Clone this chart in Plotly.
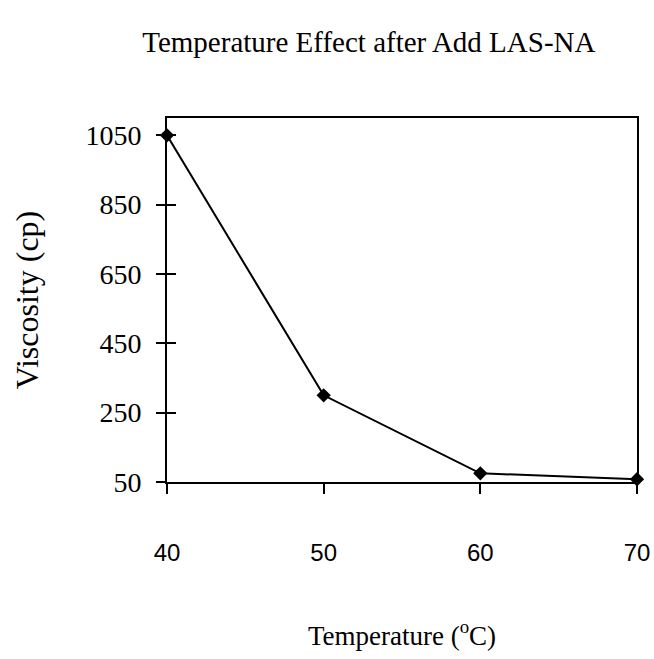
import plotly.graph_objects as go

# Data
temperature = [40, 50, 60, 70]
viscosity = [1050, 300, 75, 58]

x_ticks = [40, 50, 60, 70]
y_ticks = [50, 250, 450, 650, 850, 1050]

SERIF = "Liberation Serif, Times New Roman, serif"
SANS = "Liberation Sans, Arial, sans-serif"

fig = go.Figure()
fig.add_trace(go.Scatter(
    x=temperature,
    y=viscosity,
    mode="lines+markers",
    line=dict(color="black", width=2),
    marker=dict(symbol="diamond", size=11, color="black"),
    showlegend=False,
    cliponaxis=False,
))

# invisible trace on overlay axes so the inside half of the crossing ticks is drawn
fig.add_trace(go.Scatter(
    x=temperature, y=viscosity, xaxis="x2", yaxis="y2",
    mode="markers", marker=dict(opacity=0), showlegend=False, hoverinfo="skip",
))

fig.update_layout(
    width=654,
    height=659,
    paper_bgcolor="white",
    plot_bgcolor="white",
    font=dict(family=SERIF, color="black", size=20),
    margin=dict(l=167, r=17, t=118, b=177),
    title=dict(
        text="Temperature Effect after Add LAS-NA",
        x=0.564, xanchor="center",
        y=0.936, yanchor="middle",
        font=dict(size=29),
    ),
    xaxis=dict(
        range=[40, 70],
        tickvals=x_ticks,
        tickfont=dict(family=SANS, size=24),
        ticks="outside", ticklen=10, tickwidth=2, tickcolor="black",
        ticklabelstandoff=38,
        ticklabeloverflow="allow",
        automargin=False,
        showline=True, linecolor="black", linewidth=2, mirror=True,
        showgrid=False, zeroline=False,
        title=dict(text="Temperature (<sup>o</sup>C)", standoff=61, font=dict(size=27)),
    ),
    yaxis=dict(
        range=[50, 1100],
        tickvals=y_ticks,
        tickfont=dict(size=28),
        ticks="outside", ticklen=9, tickwidth=2, tickcolor="black",
        ticklabelstandoff=9,
        automargin=False,
        showline=True, linecolor="black", linewidth=2, mirror=True,
        showgrid=False, zeroline=False,
        title=dict(text="Viscosity (cp)", standoff=37, font=dict(size=32)),
    ),
    xaxis2=dict(range=[40, 70], overlaying="x", visible=False),
    yaxis2=dict(
        range=[50, 1100], overlaying="y", tickvals=y_ticks,
        ticks="inside", ticklen=9, tickwidth=2, tickcolor="black",
        showticklabels=False, showgrid=False, zeroline=False, showline=False,
    ),
)

# the page body has a default 8px margin; drop it so the figure fills the window
fig.write_html(
    "out.html",
    config={"displayModeBar": False},
    post_script="document.body.style.margin = '0';",
)
